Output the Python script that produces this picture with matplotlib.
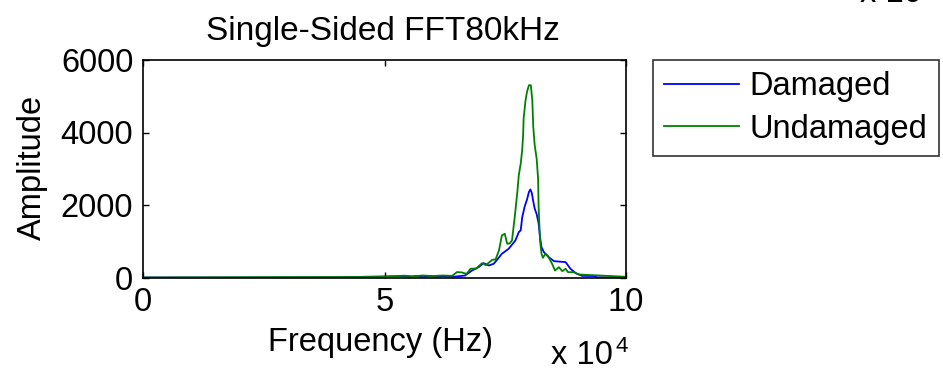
import numpy as np
from matplotlib import pyplot as plt

plt.rcParams['font.family'] = ['Liberation Sans', 'DejaVu Sans']

# Single-sided FFT amplitude, frequency in Hz
freq_dmg = [0, 20000, 40000, 54000, 55500, 56500, 58000, 59500, 60500, 62000,
            63500, 65000, 66700, 68100, 69500, 70500, 71600, 72600, 73300, 74300,
            75700, 77100, 77800, 78200, 78500, 79000, 79500, 79900, 80200, 80500,
            80800, 81100, 81500, 81900, 82200, 82500, 83000, 84000, 85100, 87500,
            88500, 89600, 90900, 93400, 94000, 100000]
amp_dmg = [0, 0, 5, 40, 5, 45, 10, 45, 10, 40,
           15, 30, 55, 193, 285, 396, 331, 378, 488, 654,
           792, 1022, 1250, 1300, 1650, 1950, 2150, 2357, 2430, 2330,
           2100, 1900, 1750, 1500, 1115, 838, 699, 561, 451, 424,
           240, 120, 45, 40, 5, 0]

freq_und = [0, 30000, 50000, 54000, 56000, 58000, 60000, 62000, 64000, 65000,
            66000, 67000, 67800, 69000, 70200, 71000, 72300, 73000, 73700, 74300,
            74900, 75400, 75900, 76400, 77000, 77500, 77800, 78200, 78500, 78700,
            78800, 79200, 79500, 79900, 80300, 80600, 80800, 81100, 81500, 81800,
            81900, 82200, 82500, 82800, 83300, 83800, 84700, 85300, 86100, 86800,
            87500, 88000, 89200, 90200, 93700, 100000]
amp_und = [0, 10, 15, 50, 35, 55, 40, 55, 45, 150,
           140, 100, 240, 250, 396, 340, 488, 500, 746, 1160,
           1207, 930, 940, 1022, 1713, 2357, 2818, 3141, 3508, 3923,
           4384, 4890, 5120, 5304, 5304, 4890, 4152, 3646, 3279, 2726,
           1989, 1022, 654, 543, 654, 600, 378, 193, 285, 175,
           240, 147, 147, 83, 60, 20]

labels = ['Damaged', 'Undamaged']
xticks = [0, 5, 10]
yticks = [0, 2000, 4000, 6000]

W, H = 943, 370
fig = plt.figure(figsize=(W / 100, H / 100), dpi=100)
ax = fig.add_axes([143 / W, 1 - 277.5 / H, (626 - 143) / W, (277.5 - 60) / H])

ax.plot(np.array(freq_dmg) / 1e4, amp_dmg, color='#0000ff', lw=1.3, label=labels[0])
ax.plot(np.array(freq_und) / 1e4, amp_und, color='#008000', lw=1.3, label=labels[1])

ax.set_xlim(0, 10)
ax.set_ylim(0, 6000)
ax.set_xticks(xticks)
ax.set_yticks(yticks)
ax.tick_params(direction='in', top=True, right=True, length=4, width=1,
               labelsize=23.5, pad=7)
for s in ax.spines.values():
    s.set_linewidth(1.2)

fs = 23.5
fig.text(383 / W, 1 - 40 / H, 'Single-Sided FFT80kHz', ha='center', va='baseline', fontsize=24)
fig.text(380 / W, 1 - 343 / H, 'Frequency (Hz)', ha='center', va='center', fontsize=fs)
fig.text(32 / W, 1 - 167 / H, 'Amplitude', ha='center', va='center', rotation=90, fontsize=fs)
fig.text(551 / W, 1 - 364 / H, 'x 10', ha='left', va='baseline', fontsize=fs)
fig.text(615 / W, 1 - 352 / H, '4', ha='left', va='baseline', fontsize=16)
# exponent of a neighbouring plot, cut off by the top edge
fig.text(860 / W, 1 - 2 / H, 'x 10', ha='left', va='baseline', fontsize=fs)

leg = fig.legend(loc='upper left', bbox_to_anchor=(653 / W, 1 - 60 / H),
                 fontsize=fs, frameon=True, fancybox=False, edgecolor='black',
                 handlelength=2.3, handletextpad=0.3, labelspacing=0.35,
                 borderpad=0.35, borderaxespad=0)
leg.get_frame().set_linewidth(1.2)

fig.savefig('out.png', dpi=100)
